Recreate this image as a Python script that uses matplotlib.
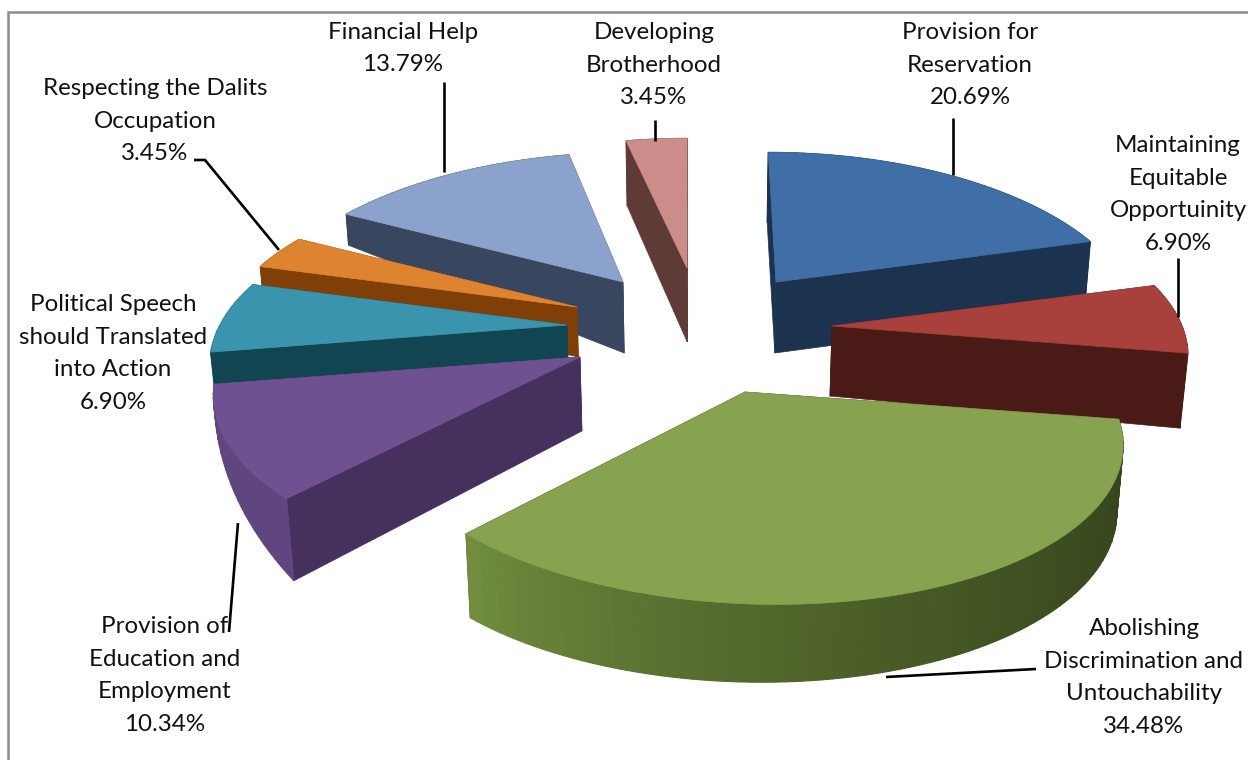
import numpy as np
import matplotlib
matplotlib.use("Agg")
import matplotlib.pyplot as plt
from matplotlib.colors import to_rgb

# ---- data ----
categories = ["Provision for\nReservation", "Maintaining\nEquitable\nOpportuinity",
              "Abolishing\nDiscrimination and\nUntouchability",
              "Provision of\nEducation and\nEmployment",
              "Political Speech\nshould Translated\ninto Action",
              "Respecting the Dalits\nOccupation", "Financial Help",
              "Developing\nBrotherhood"]
values = [20.69, 6.90, 34.48, 10.34, 6.90, 3.45, 13.79, 3.45]

# ---- styles / layout ----
top_colors = ["#3f6fa6", "#a8403c", "#87a34f", "#6f5090", "#3a94ae", "#de8430", "#8ba3cc", "#cb8d8a"]
face_colors = ["#1c3350", "#4a1a16", "#4a1a16", "#45305e", "#114552", "#7f3f06", "#39465f", "#5f3b38"]
rim_start_colors = ["#1c3350", "#4a1a16", "#36441c", "#5f4680", "#114552", "#7f3f06", "#39465f", "#5f3b38"]
rim_end_colors = ["#1c3350", "#4a1a16", "#728f3e", "#5f4680", "#114552", "#7f3f06", "#39465f", "#5f3b38"]
tips = [(776, 282), (832, 326), (745, 392), (580, 357), (567, 325), (577, 307), (623, 282), (687, 268)]
radius_x = [350, 350, 360, 357, 347, 350, 354, 350]
shear = [0.06, -0.13, 0.15, 0.03, 0, 0, -0.06, 0]
depth_tip = [71, 70, 60, 74, 45, 50, 71, 74]
depth_rim_start = [70, 75, 66, 82, 33, 20, 31, 65]
depth_rim_end = [70, 75, 84, 4, 33, 20, 31, 65]
draw_order = [7, 6, 5, 4, 0, 1, 3, 2]
RY, K = 161.0, 0.242
CONV, CONV_X = 0.00022, 700.0

label_pos = [(970, 65), (1178, 194.5), (1144, 677.5), (165, 675.5), (113, 353.5), (155, 121), (403, 48.5), (654, 65)]
leaders = [[(953, 118), (953, 175)], [(1178, 258), (1178, 317)], [(886, 677), (1036, 669)],
           [(238, 523), (229, 632)], [], [(194, 160), (205, 160), (279, 250)],
           [(444, 82), (444, 172)], [(655, 120), (655, 141)]]
FONT = "Lato"
FS = 17.4

fig = plt.figure(figsize=(12.48, 7.6), dpi=100)
ax = fig.add_axes([0, 0, 1, 1])
ax.set_xlim(0, 1248)
ax.set_ylim(760, 0)
ax.axis("off")


def project(theta, rx, s):
    u, v = np.sin(theta), np.cos(theta)
    w = 1 + K * v
    y = -RY * v / w
    return rx * u / w + s * y, y


def lower(x, d):
    return x - CONV * (x - CONV_X) * d


edges = np.radians(np.concatenate([[0], np.cumsum(values)]) / np.sum(values) * 360)

for i in draw_order:
    t0, t1 = edges[i], edges[i + 1]
    n = max(int(np.degrees(t1 - t0) * 0.7), 10)
    th = np.linspace(t0, t1, n + 1)
    px, py = project(th, radius_x[i], shear[i])
    px = px + tips[i][0]
    py = py + tips[i][1]
    f = np.linspace(0, 1, n + 1)
    d = depth_rim_start[i] + (depth_rim_end[i] - depth_rim_start[i]) * f
    bx = lower(px, d)
    tx, ty = tips[i]
    dt = depth_tip[i]
    tbx = lower(tx, dt)
    # radial faces
    for j in (0, n):
        ax.fill([tx, px[j], bx[j], tbx], [ty, py[j], py[j] + d[j], ty + dt],
                color=face_colors[i], lw=0.5)
    # rim, shaded along the arc
    c0, c1 = np.array(to_rgb(rim_start_colors[i])), np.array(to_rgb(rim_end_colors[i]))
    for j in range(n):
        col = c0 + (c1 - c0) * f[j] ** 1.8
        ax.fill([px[j], px[j + 1], bx[j + 1], bx[j]],
                [py[j], py[j + 1], py[j + 1] + d[j + 1], py[j] + d[j]],
                color=tuple(col), lw=0.8)
    # top surface
    ax.fill(np.r_[tx, px], np.r_[ty, py], color=top_colors[i], lw=0.5)

for name, val, pos, seg in zip(categories, values, label_pos, leaders):
    ax.text(pos[0], pos[1], f"{name}\n{val:.2f}%", ha="center", va="center", ma="center",
            family=FONT, fontsize=FS, color="#111111", linespacing=1.7)
    if seg:
        xs, ys = zip(*seg)
        ax.plot(xs, ys, color="black", lw=1.9, solid_capstyle="butt")

# frame
ax.plot([8, 8, 1248], [760, 12, 12], color="#8c8c8c", lw=1.8, solid_joinstyle="miter")

fig.savefig("out.png", dpi=100)
